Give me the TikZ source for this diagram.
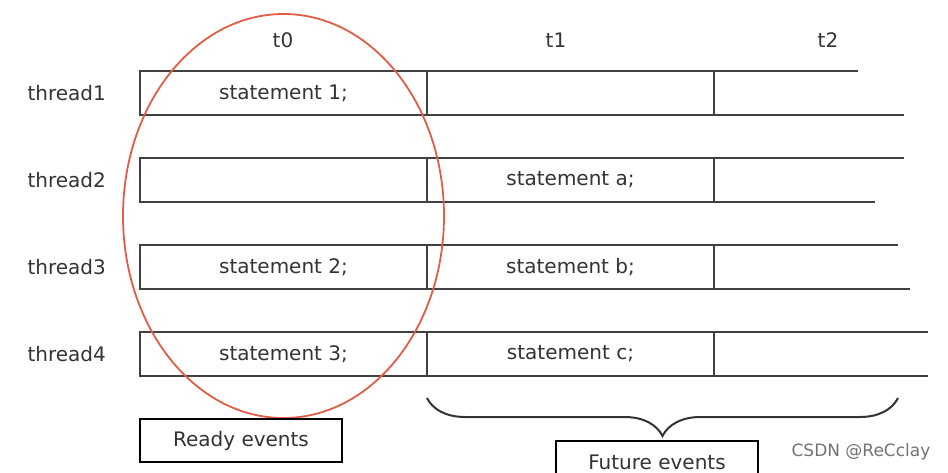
\documentclass[tikz,border=0pt]{standalone}
\usepackage{fontspec}
\setmainfont{DejaVu Sans}
\usetikzlibrary{positioning,decorations.pathreplacing}

\tikzset{
  cell/.style={draw=black!75, line width=2pt, minimum width=287pt, minimum height=44pt, inner sep=0pt, outer sep=0pt, anchor=north west, text=black!80},
  lbl/.style={inner sep=0pt, text=black!80},
  evbox/.style={draw=black, line width=2.6pt, minimum width=202pt, minimum height=43pt, inner sep=0pt, outer sep=0pt, anchor=north west, text=black!80},
  open/.style={draw=black!75, line width=2pt},
}

\begin{document}
\begin{tikzpicture}[x=1pt,y=1pt,yscale=-1,xscale=1,font=\fontsize{20}{24}\selectfont]
\useasboundingbox (0,0) rectangle (948,473);
\clip (0,0) rectangle (948,473);

% time labels
\node (t0) [lbl] at (283,40) {t0};
\node (t1) [lbl] at (556,40) {t1};
\node (t2) [lbl] at (828,40) {t2};

% row 1
\node (c10) [cell] at (140,71) {statement 1;};
\node (c11) [cell] at (427,71) {};
\draw [open] (c11.north east) -- ++(144,0);
\draw [open] (c11.south east) -- ++(190,0);
\node (th1) [lbl, left=34pt of c10] {thread1};

% row 2
\node (c20) [cell] at (140,158) {};
\node (c21) [cell] at (427,158) {statement a;};
\draw [open] (c21.north east) -- ++(190,0);
\draw [open] (c21.south east) -- ++(161,0);
\node (th2) [lbl, left=34pt of c20] {thread2};

% row 3
\node (c30) [cell] at (140,245) {statement 2;};
\node (c31) [cell] at (427,245) {statement b;};
\draw [open] (c31.north east) -- ++(184,0);
\draw [open] (c31.south east) -- ++(196,0);
\node (th3) [lbl, left=34pt of c30] {thread3};

% row 4
\node (c40) [cell] at (140,332) {statement 3;};
\node (c41) [cell] at (427,332) {statement c;};
\draw [open] (c41.north east) -- ++(214,0);
\draw [open] (c41.south east) -- ++(214,0);
\node (th4) [lbl, left=34pt of c40] {thread4};

% ready events
\draw [color={rgb, 255:red, 226; green, 92; blue, 72}, line width=1.8pt] (283.5,216) ellipse [x radius=160.5, y radius=202];
\node (ready) [evbox] at (140,419) {Ready events};

% future events
\coordinate (bl) at (427,398);
\coordinate (br) at (898,398);
\draw [black!80, line width=2pt, decorate, decoration={brace, mirror, amplitude=38pt}] (bl) -- (br);
\node (future) [evbox] at (556,441) {Future events};

% watermark
\node (mark) [lbl, text=black!55, font=\fontsize{17}{20}\selectfont] at (861,452) {CSDN @ReCclay};

\end{tikzpicture}
\end{document}
